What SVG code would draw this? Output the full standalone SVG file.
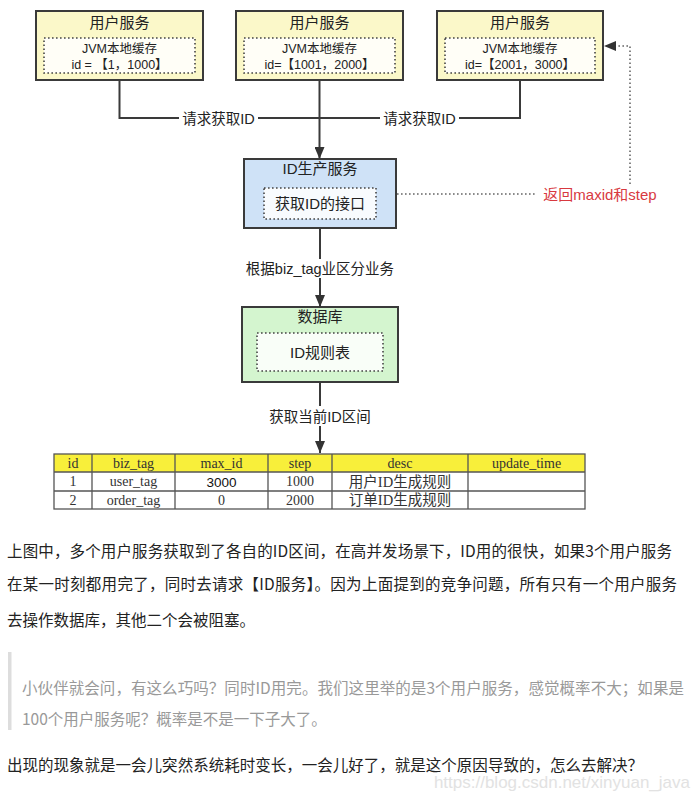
<svg xmlns="http://www.w3.org/2000/svg" width="699" height="797" viewBox="0 0 699 797">
<style>
.box{stroke:#3a3a3a;stroke-width:2}
.inner{fill:#fff;fill-opacity:0.85;stroke:#444;stroke-width:1.6;stroke-dasharray:1.6 2.4}
.t{font-family:"Liberation Sans","Noto Sans CJK SC",sans-serif;fill:#222;text-anchor:middle}
.title{font-size:15px}
.small{font-size:12.5px}
.lbl{font-size:14.5px}
.conn{fill:none;stroke:#3a3a3a;stroke-width:2}
.dot{fill:none;stroke:#666;stroke-width:1.6;stroke-dasharray:1.6 2.4}
.tb{font-family:"Liberation Serif","Noto Sans CJK SC",serif;font-size:14px;fill:#333;text-anchor:middle}
.grid{stroke:#555;stroke-width:1.3;fill:none}
.p{font-family:"Noto Sans CJK SC","Liberation Sans",sans-serif;font-size:15.5px;fill:#222}
.q{font-family:"Noto Sans CJK SC","Liberation Sans",sans-serif;font-size:15.5px;fill:#999}
</style>
<defs>
<marker id="ah" viewBox="0 0 12 10" refX="12" refY="5" markerWidth="12" markerHeight="10" markerUnits="userSpaceOnUse" orient="auto">
<path d="M0,0 L12,5 L0,10 z" fill="#333"/>
</marker>
</defs>
<rect width="699" height="797" fill="#fff"/>

<g id="user1">
<rect class="box" x="36" y="11" width="167" height="69" fill="#fbf8c9"/>
<text class="t title" x="119.5" y="27.5">用户服务</text>
<rect class="inner" x="44" y="38" width="151" height="35"/>
<text class="t small" x="119.5" y="53">JVM本地缓存</text>
<text class="t small" x="119.5" y="68.5">id = 【1，1000】</text>
</g>
<g id="user2">
<rect class="box" x="236" y="11" width="167" height="69" fill="#fbf8c9"/>
<text class="t title" x="319.5" y="27.5">用户服务</text>
<rect class="inner" x="244" y="38" width="151" height="35"/>
<text class="t small" x="319.5" y="53">JVM本地缓存</text>
<text class="t small" x="319.5" y="68.5">id=【1001，2000】</text>
</g>
<g id="user3">
<rect class="box" x="437" y="11" width="166" height="69" fill="#fbf8c9"/>
<text class="t title" x="520" y="27.5">用户服务</text>
<rect class="inner" x="445" y="38" width="150" height="35"/>
<text class="t small" x="520" y="53">JVM本地缓存</text>
<text class="t small" x="520" y="68.5">id=【2001，3000】</text>
</g>

<g id="idservice">
<rect class="box" x="244" y="159" width="152" height="69" fill="#cfe2f7"/>
<text class="t title" x="320" y="174">ID生产服务</text>
<rect class="inner" x="264" y="188" width="112" height="31"/>
<text class="t title" x="320" y="209">获取ID的接口</text>
</g>

<g id="database">
<rect class="box" x="242" y="307" width="156" height="75" fill="#d4f5cf"/>
<text class="t title" x="320" y="322">数据库</text>
<rect class="inner" x="257" y="333" width="126" height="38"/>
<text class="t title" x="320" y="357.5">ID规则表</text>
</g>

<g id="connectors">
<path class="conn" d="M119.5,80 V118 H179"/>
<path class="conn" d="M258,118 H380"/>
<path class="conn" d="M459,118 H520 V80"/>
<path class="conn" d="M319.5,80 V159" marker-end="url(#ah)"/>
<path class="conn" d="M320,228 V259"/>
<path class="conn" d="M320,278 V307" marker-end="url(#ah)"/>
<path class="conn" d="M320,382 V406"/>
<path class="conn" d="M320,426 V453" marker-end="url(#ah)"/>
<path class="dot" d="M397,194 H537"/>
<path class="dot" d="M630,184 V46 H604" marker-end="url(#ah)"/>
<text class="t lbl" x="218.5" y="123.5">请求获取ID</text>
<text class="t lbl" x="419.5" y="123.5">请求获取ID</text>
<text class="t lbl" x="320" y="273.5">根据biz_tag业区分业务</text>
<text class="t lbl" x="320" y="421.5">获取当前ID区间</text>
<text class="t" x="600" y="199.5" style="font-size:15px;fill:#d8393f">返回maxid和step</text>
</g>

<g id="table">
<rect x="54" y="454" width="531" height="18" fill="#f8ef3a"/>
<rect class="grid" x="54" y="454" width="531" height="55"/>
<path class="grid" d="M54,472 H585 M54,491 H585 M92,454 V509 M175,454 V509 M268,454 V509 M332,454 V509 M468,454 V509"/>
<text class="tb" x="73" y="467.5">id</text>
<text class="tb" x="133.5" y="467.5">biz_tag</text>
<text class="tb" x="221.5" y="467.5">max_id</text>
<text class="tb" x="300" y="467.5">step</text>
<text class="tb" x="400" y="467.5">desc</text>
<text class="tb" x="526.5" y="467.5">update_time</text>
<text class="tb" x="73" y="486">1</text>
<text class="tb" x="133.5" y="486">user_tag</text>
<text class="t" x="221.5" y="486.5" style="font-size:13.5px;fill:#111">3000</text>
<text class="tb" x="300" y="486">1000</text>
<text class="tb" x="400" y="486.5" style="font-size:14.5px">用户ID生成规则</text>
<text class="tb" x="73" y="504.5">2</text>
<text class="tb" x="133.5" y="504.5">order_tag</text>
<text class="tb" x="221.5" y="504.5">0</text>
<text class="tb" x="300" y="504.5">2000</text>
<text class="tb" x="400" y="505" style="font-size:14.5px">订单ID生成规则</text>
</g>

<g id="text">
<text class="p" x="7" y="557" textLength="665" lengthAdjust="spacing">上图中，多个用户服务获取到了各自的ID区间，在高并发场景下，ID用的很快，如果3个用户服务</text>
<text class="p" x="7" y="590" textLength="670" lengthAdjust="spacing">在某一时刻都用完了，同时去请求【ID服务】。因为上面提到的竞争问题，所有只有一个用户服务</text>
<text class="p" x="7" y="626">去操作数据库，其他二个会被阻塞。</text>
<rect x="8" y="652" width="3.5" height="78" fill="#ddd"/>
<text class="q" x="22" y="694" textLength="662" lengthAdjust="spacing">小伙伴就会问，有这么巧吗？同时ID用完。我们这里举的是3个用户服务，感觉概率不大；如果是</text>
<text class="q" x="22" y="725">100个用户服务呢？概率是不是一下子大了。</text>
<text class="p" x="7" y="771" textLength="636" lengthAdjust="spacing">出现的现象就是一会儿突然系统耗时变长，一会儿好了，就是这个原因导致的，怎么去解决？</text>
<text x="690" y="788" text-anchor="end" style="font-family:'Liberation Sans',sans-serif;font-size:17px;fill:#e2e2e2">https://blog.csdn.net/xinyuan_java</text>
</g>
</svg>
